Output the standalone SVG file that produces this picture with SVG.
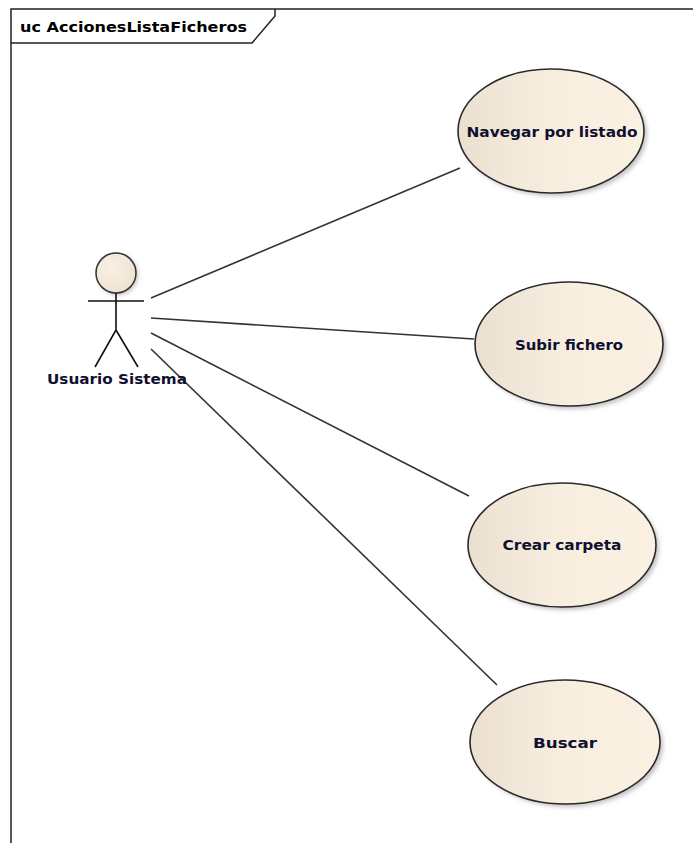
<svg xmlns="http://www.w3.org/2000/svg" width="693" height="843" viewBox="0 0 693 843">
<defs>
<linearGradient id="uc" x1="0" y1="0" x2="1" y2="0">
<stop offset="0" stop-color="#ebe0d0"/>
<stop offset="0.5" stop-color="#f8eee0"/>
<stop offset="1" stop-color="#fbf1e3"/>
</linearGradient>
<radialGradient id="head" cx="0.4" cy="0.4" r="0.7">
<stop offset="0" stop-color="#fbf1e3"/>
<stop offset="1" stop-color="#ece1d1"/>
</radialGradient>
<filter id="sh" x="-20%" y="-20%" width="150%" height="150%">
<feGaussianBlur stdDeviation="2"/>
</filter>
</defs>
<style>
.lbl{font-family:"DejaVu Sans",Verdana,sans-serif;font-weight:bold;font-size:14px;fill:#101030;text-anchor:middle}
.uc{fill:url(#uc);stroke:#2a2a2a;stroke-width:1.6}
.shadow{fill:#9a9a9a;opacity:0.6;filter:url(#sh)}
.conn line{stroke:#333;stroke-width:1.6}
.stick{stroke:#111;stroke-width:1.6;fill:none}
</style>
<rect width="693" height="843" fill="#fff"/>
<g id="frame">
<path d="M11 843 V9 H693" fill="none" stroke="#222" stroke-width="1.5"/>
<path d="M11 43 H252 L275 16 V9" fill="none" stroke="#222" stroke-width="1.5"/>
<text x="20" y="32" font-family="DejaVu Sans,Verdana,sans-serif" font-weight="bold" font-size="14" fill="#000" textLength="227" lengthAdjust="spacingAndGlyphs">uc AccionesListaFicheros</text>
</g>
<g id="connectors" class="conn">
<line x1="151" y1="298" x2="460" y2="168"/>
<line x1="151" y1="318" x2="474" y2="339"/>
<line x1="151" y1="333" x2="469" y2="496"/>
<line x1="151" y1="349" x2="497" y2="685"/>
</g>
<g id="actor">
<circle cx="118" cy="275" r="20" class="shadow"/>
<circle cx="116" cy="273" r="20" fill="url(#head)" stroke="#333" stroke-width="1.5"/>
<path class="stick" d="M88 301 H144 M116 293 V330 L95 367 M116 330 L138 367"/>
<text class="lbl" x="117" y="384" textLength="140" lengthAdjust="spacingAndGlyphs">Usuario Sistema</text>
</g>
<g id="uc1">
<ellipse cx="554" cy="134" rx="93" ry="62" class="shadow"/>
<ellipse cx="551" cy="131" rx="93" ry="62" class="uc"/>
<text class="lbl" x="552" y="137" textLength="171" lengthAdjust="spacingAndGlyphs">Navegar por listado</text>
</g>
<g id="uc2">
<ellipse cx="572" cy="347" rx="94" ry="62" class="shadow"/>
<ellipse cx="569" cy="344" rx="94" ry="62" class="uc"/>
<text class="lbl" x="569" y="350" textLength="108" lengthAdjust="spacingAndGlyphs">Subir fichero</text>
</g>
<g id="uc3">
<ellipse cx="565" cy="548" rx="94" ry="62" class="shadow"/>
<ellipse cx="562" cy="545" rx="94" ry="62" class="uc"/>
<text class="lbl" x="562" y="550" textLength="119" lengthAdjust="spacingAndGlyphs">Crear carpeta</text>
</g>
<g id="uc4">
<ellipse cx="568" cy="745" rx="95" ry="62" class="shadow"/>
<ellipse cx="565" cy="742" rx="95" ry="62" class="uc"/>
<text class="lbl" x="565" y="748" textLength="64" lengthAdjust="spacingAndGlyphs">Buscar</text>
</g>
</svg>
